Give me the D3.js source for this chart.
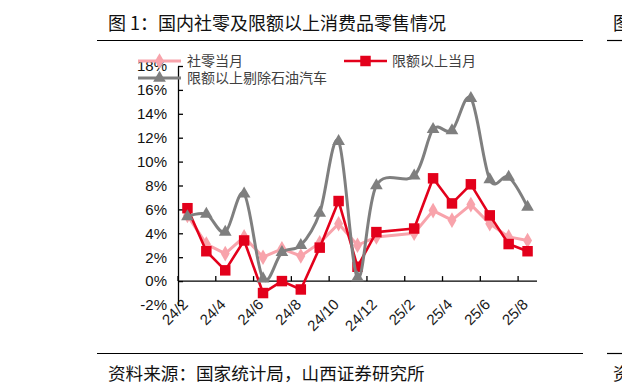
<!DOCTYPE html>
<html>
<head>
<meta charset="utf-8">
<script src="https://cdn.jsdelivr.net/npm/d3@7"></script>
<style>
  body { margin: 0; background: #fff; }
  svg { display: block; }
</style>
</head>
<body>
<svg id="chart" width="622" height="391"></svg>
<script>
// categories (25/1 has no data)
const months = ['24/2', '24/3', '24/4', '24/5', '24/6', '24/7', '24/8', '24/9', '24/10', '24/11', '24/12',
                '25/1', '25/2', '25/3', '25/4', '25/5', '25/6', '25/7', '25/8'];

const retailTotal   = [5.5, 3.1, 2.3, 3.7, 2.0, 2.7, 2.1, 3.2, 4.8, 3.0, 3.7, null, 4.0, 5.9, 5.1, 6.4, 4.8, 3.7, 3.4];
const aboveQuota    = [6.1, 2.5, 0.9, 3.4, -1.0, 0.0, -0.7, 2.8, 6.7, 1.2, 4.1, null, 4.4, 8.6, 6.5, 8.1, 5.5, 3.1, 2.5];
const exOilAuto     = [5.4, 5.6, 4.1, 7.3, 0.2, 2.4, 3.0, 5.7, 11.7, 0.3, 8.0, null, 8.8, 12.7, 12.6, 15.3, 8.5, 8.7, 6.2];

const seriesNames = ['社零当月', '限额以上当月', '限额以上剔除石油汽车'];
const yTicks = [-2, 0, 2, 4, 6, 8, 10, 12, 14, 16, 18];
const xTickLabels = ['24/2', '24/4', '24/6', '24/8', '24/10', '24/12', '25/2', '25/4', '25/6', '25/8'];

const titleText = '图 1：国内社零及限额以上消费品零售情况';
const sourceText = '资料来源：国家统计局，山西证券研究所';

const cnFont = '"Noto Sans CJK SC", "Noto Sans", sans-serif';
const numFont = '"Liberation Sans", Arial, sans-serif';

const svg = d3.select('#chart');

/**
 * Header / footer
 */
svg.append('text')
   .attr('x', 108).attr('y', 30)
   .attr('font-family', cnFont).attr('font-size', 18)
   .attr('fill', '#111')
   .text(titleText);

svg.append('line').attr('x1', 97).attr('x2', 583).attr('y1', 40.5).attr('y2', 40.5)
   .attr('stroke', '#000').attr('stroke-width', 1.2);
svg.append('line').attr('x1', 607).attr('x2', 622).attr('y1', 40.5).attr('y2', 40.5)
   .attr('stroke', '#000').attr('stroke-width', 1.2);
svg.append('text').attr('x', 613).attr('y', 30)
   .attr('font-family', cnFont).attr('font-size', 18).attr('fill', '#111').text('图');

svg.append('line').attr('x1', 97).attr('x2', 583).attr('y1', 353.5).attr('y2', 353.5)
   .attr('stroke', '#000').attr('stroke-width', 1.2);
svg.append('line').attr('x1', 607).attr('x2', 622).attr('y1', 353.5).attr('y2', 353.5)
   .attr('stroke', '#000').attr('stroke-width', 1.2);
svg.append('text')
   .attr('x', 108).attr('y', 380)
   .attr('font-family', cnFont).attr('font-size', 17.6)
   .attr('fill', '#111')
   .text(sourceText);
svg.append('text').attr('x', 613).attr('y', 380)
   .attr('font-family', cnFont).attr('font-size', 17.6).attr('fill', '#111').text('资');

/**
 * Scales
 */
const x = d3.scaleBand().domain(months).range([178, 537]).padding(0);
const y = d3.scaleLinear().domain([-2, 18]).range([305, 66]);
const cx = m => x(m) + x.bandwidth() / 2;

// y axis
const yAxis = svg.append('g')
  .attr('transform', 'translate(178,0)')
  .call(d3.axisLeft(y).tickValues(yTicks).tickFormat(d => d + '%')
          .tickSizeInner(-5).tickSizeOuter(0).tickPadding(11));
yAxis.select('.domain').attr('stroke', '#000').attr('stroke-width', 1.3);
yAxis.selectAll('.tick line').attr('stroke', '#000').attr('stroke-width', 1.3);
yAxis.selectAll('.tick text')
     .attr('font-family', numFont).attr('font-size', 15).attr('fill', '#111');

// zero line with category ticks
svg.append('line')
   .attr('x1', 178).attr('x2', 537).attr('y1', y(0)).attr('y2', y(0))
   .attr('stroke', '#000').attr('stroke-width', 1.3);

const tickMonths = months.filter((m, i) => i % 2 === 0);
svg.append('g').selectAll('line')
   .data(tickMonths)
   .join('line')
   .attr('x1', d => x(d)).attr('x2', d => x(d))
   .attr('y1', y(0)).attr('y2', y(0) - 5)
   .attr('stroke', '#000').attr('stroke-width', 1.3);

svg.append('g').selectAll('text')
   .data(xTickLabels)
   .join('text')
   .attr('transform', d => `translate(${cx(d) - 6},${y(-2) - 7}) rotate(-45)`)
   .attr('text-anchor', 'end')
   .attr('dy', '0.7em')
   .attr('font-family', numFont).attr('font-size', 15).attr('fill', '#1a1a1a')
   .text(d => d);

/**
 * Series
 */
const series = [
  { name: seriesNames[0], values: retailTotal, color: '#F8A3AB', width: 3, symbol: d3.symbolDiamond, size: 70, curve: d3.curveLinear },
  { name: seriesNames[1], values: aboveQuota, color: '#E3001B', width: 2.6, symbol: d3.symbolSquare, size: 110, curve: d3.curveLinear },
  { name: seriesNames[2], values: exOilAuto, color: '#7F7F7F', width: 3, symbol: d3.symbolTriangle, size: 70, curve: d3.curveCatmullRom.alpha(0) },
];

series.forEach(s => {
  const pts = months.map((m, i) => ({ m, v: s.values[i] })).filter(d => d.v !== null);

  const line = d3.line()
                 .x(d => cx(d.m))
                 .y(d => y(d.v))
                 .curve(s.curve);

  svg.append('path')
     .datum(pts)
     .attr('d', line)
     .attr('fill', 'none')
     .attr('stroke', s.color)
     .attr('stroke-width', s.width)
     .attr('stroke-linejoin', 'round');

  svg.append('g').selectAll('path')
     .data(pts)
     .join('path')
     .attr('d', d3.symbol().type(s.symbol).size(s.size))
     .attr('transform', d => `translate(${cx(d.m)},${y(d.v)})`)
     .attr('fill', s.color);
});

/**
 * Legend
 */
const legendPos = [
  { x: 138, y: 61, tx: 187 },
  { x: 344, y: 61, tx: 392 },
  { x: 138, y: 78, tx: 187 },
];

series.forEach((s, i) => {
  const p = legendPos[i];
  const g = svg.append('g');
  g.append('line')
   .attr('x1', p.x).attr('x2', p.x + 43).attr('y1', p.y).attr('y2', p.y)
   .attr('stroke', s.color).attr('stroke-width', s.width);
  g.append('path')
   .attr('d', d3.symbol().type(s.symbol).size(s.size)())
   .attr('transform', `translate(${p.x + 21.5},${p.y})`)
   .attr('fill', s.color);
  g.append('text')
   .attr('x', p.tx).attr('y', p.y)
   .attr('dy', '0.35em')
   .attr('font-family', cnFont).attr('font-size', 14).attr('fill', '#404040')
   .text(s.name);
});
</script>
</body>
</html>
